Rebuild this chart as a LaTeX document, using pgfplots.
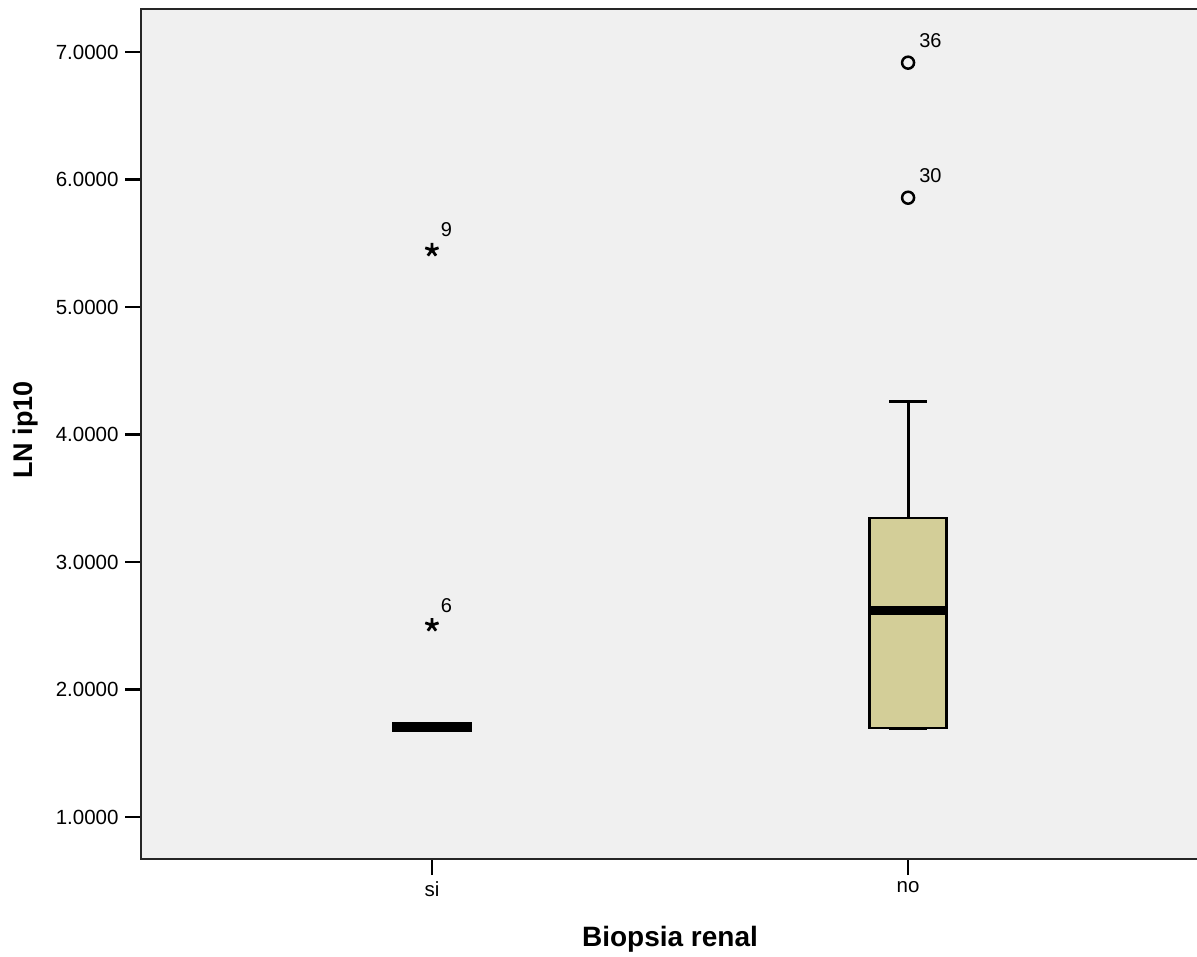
\documentclass[border=0pt]{standalone}
\usepackage{pgfplots}
\pgfplotsset{compat=1.18}
\usepgfplotslibrary{statistics}
\usepackage{fontspec}
\setmainfont{Liberation Sans}
\definecolor{bgc}{RGB}{240,240,240}
\definecolor{boxc}{RGB}{211,206,152}
\begin{document}
\begin{tikzpicture}
\begin{axis}[
  at={(141pt,97pt)}, anchor=south west,
  scale only axis, width=1058pt, height=850pt,
  xmin=0.389, xmax=2.611, ymin=0.671, ymax=7.337,
  axis background/.style={fill=bgc},
  axis line style={line width=2pt, draw=black!85},
  xtick={1,2}, xticklabels={si,no},
  ytick={1,2,3,4,5,6,7},
  tick pos=left,
  tick align=outside,
  major tick length=16pt,
  every tick/.style={black, line width=2.5pt},
  /pgf/number format/assume math mode=true,
  yticklabel style={/pgf/number format/fixed, /pgf/number format/fixed zerofill, /pgf/number format/precision=4, xshift=-3pt},
  xticklabel style={yshift=-3pt},
  tick label style={font=\fontsize{20.5}{24}\selectfont},
  xlabel={Biopsia renal},
  ylabel={LN ip10},
  xlabel style={at={([yshift=-87pt]axis description cs:0.5,0)}, anchor=base, font=\fontsize{28}{32}\selectfont\bfseries, inner sep=0pt},
  ylabel style={at={([xshift=-108pt]axis description cs:0,0.505)}, anchor=base, font=\fontsize{27}{32}\selectfont\bfseries, inner sep=0pt},
  boxplot/draw direction=y,
  boxplot/every box/.style={draw=black, line width=2.5pt, fill=boxc},
  boxplot/every median/.style={draw=black, line width=9pt},
  boxplot/every whisker/.style={draw=black, line width=3pt},
]
% si
\addplot[black, boxplot prepared={draw position=1, lower whisker=1.706, lower quartile=1.680, median=1.706, upper quartile=1.732, upper whisker=1.706, box extend=0.162, whisker extend=0.0},
  boxplot/every box/.style={draw=black, line width=2.5pt, fill=black}] coordinates {};
% no
\addplot[black, boxplot prepared={draw position=2, lower whisker=1.698, lower quartile=1.698, median=2.616, upper quartile=3.345, upper whisker=4.255, box extend=0.162, whisker extend=0.08}] coordinates {};
% extreme outliers (si)
\addplot[black, only marks, mark=star, mark size=7pt, mark options={line width=2.8pt},
  nodes near coords, point meta=explicit symbolic,
  every node near coord/.append style={font=\fontsize{20}{22}\selectfont, anchor=base west, inner sep=0pt, xshift=7.5pt, yshift=13pt}]
  table[row sep=\\, meta=lab] {x y lab\\ 1 2.506 6\\ 1 5.447 9\\};
% outliers (no)
\addplot[black, only marks, mark=o, mark size=6pt, mark options={line width=2.5pt},
  nodes near coords, point meta=explicit symbolic,
  every node near coord/.append style={font=\fontsize{20}{22}\selectfont, anchor=base west, inner sep=0pt, xshift=10pt, yshift=15pt}]
  table[row sep=\\, meta=lab] {x y lab\\ 2 5.857 30\\ 2 6.916 36\\};
\end{axis}
\pgfresetboundingbox
\useasboundingbox (0,0) rectangle (1197pt,956pt);
\end{tikzpicture}
\end{document}
